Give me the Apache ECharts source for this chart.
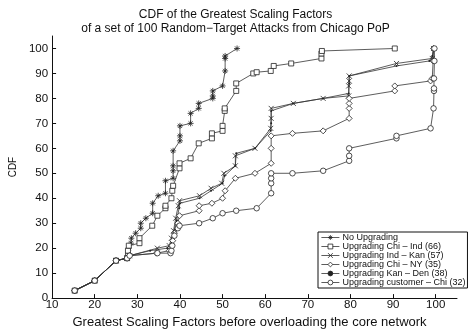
<!DOCTYPE html>
<html>
<head>
<meta charset="utf-8">
<script src="https://cdn.jsdelivr.net/npm/echarts@6/dist/echarts.min.js"></script>
<style>html,body{margin:0;padding:0;background:#fff}#c{width:471px;height:334px}</style>
</head>
<body>
<div id="c"></div>
<script>
const titleLines = ["CDF of the Greatest Scaling Factors", "of a set of 100 Random\u2212Target Attacks from Chicago PoP"];
const xName = "Greatest Scaling Factors before overloading the core network";
const yName = "CDF";
const xTicks = [10, 20, 30, 40, 50, 60, 70, 80, 90, 100];
const yTicks = [0, 10, 20, 30, 40, 50, 60, 70, 80, 90, 100];
const seriesNames = ["No Upgrading", "Upgrading Chi \u2013 Ind (66)", "Upgrading Ind \u2013 Kan (57)", "Upgrading Chi \u2013 NY (35)", "Upgrading Kan \u2013 Den (38)", "Upgrading customer \u2013 Chi (32)"];

const noUpgrading = [[15.3,3],[20,7],[25,15],[27.6,16],[28,17],[28,20],[28.5,22],[28.6,24],[29.6,26],[30.8,28],[30.8,30],[32,32],[33.6,34],[33.6,38],[34.9,41],[36.6,42],[36.6,47],[38.4,48],[38.4,51],[38.4,53],[38.4,59],[40,63],[40,65],[40,69],[42.5,70],[42.5,74],[44.4,76],[44.4,78],[47.7,80],[47.7,81],[47.7,83],[50,85],[50.6,91],[50.6,96],[50.6,97],[53.4,100]];
const chiInd = [[15.3,3],[20,7],[25,15],[27.6,16],[27.8,17],[27.8,19],[28,21],[30.5,22],[30.5,24],[33.5,29],[34.7,33],[36.6,36],[36.6,37],[38,40],[38.2,43],[38.4,45],[39.9,52],[39.9,54],[42.5,56],[44.4,62],[47.5,64],[47.5,66],[50,67],[50,69],[50.5,75],[50.5,76],[53.2,83],[53.2,86],[57.2,90],[58,90.5],[61.3,91],[62,93],[66.1,94],[73.2,96],[73.2,98],[73.3,99],[90.4,100]];
const indKan = [[15.3,3],[20,7],[25,15],[27.6,16],[28.2,17],[34.7,20],[37.5,21],[38,24],[38.5,27],[39,32],[39.6,37],[39.9,39],[44.6,41],[47.3,44],[49.8,46],[50.3,50],[53,53],[53,57],[57.6,60],[61.3,68],[61.4,72],[61.4,76],[66.6,78],[73.6,80],[79.6,81],[79.6,85],[79.7,87],[79.7,89],[90.8,94],[99.2,96],[99.5,100]];
const chiNY = [[15.3,3],[20,7],[25,15],[27.6,16],[28.2,17],[34.5,18],[37.5,19],[38,21],[38.3,23],[38.7,26],[39.5,30],[39.9,33],[44.5,35],[44.5,37],[47.5,38],[50,40],[50.6,43],[53,48],[57.6,50],[61.4,54],[61.4,60],[61.4,65],[66.4,66],[73.6,67],[79.7,72],[79.7,76],[79.7,78],[79.7,80],[90.4,83],[90.4,85],[98.8,87],[99.2,88],[99.4,95],[99.5,100]];
const kanDen = [[15.3,3],[20,7],[25,15],[27.6,16],[28.2,17],[33,19],[37,20],[38,22],[38.5,26],[39.2,31],[39.8,36],[40,38],[44.6,40],[47.3,43],[50,46],[50.5,49],[53,53],[53.2,58],[57.6,60],[61.3,67],[61.4,70],[61.4,75],[66.6,78],[73.6,80],[79.6,82],[79.7,86],[79.7,89],[90.8,93],[98.5,95],[99.2,97],[99.5,100]];
const custChi = [[15.3,3],[20,7],[25,15],[27.6,16],[28.2,17],[34.7,18],[37.8,18],[38,19],[38.2,21],[38.7,25],[39.5,28],[39.9,29],[44.5,30],[47.7,32],[50,34],[53.2,35],[58,36],[61.4,42],[61.4,46],[61.4,48],[61.4,50],[66.4,50],[73.6,51],[79.7,55],[79.7,57],[79.7,60],[90.8,64],[90.8,65],[98.8,68],[99.5,76],[99.6,83],[99.6,84],[99.6,88],[99.7,95],[99.7,100]];

const seriesData = [noUpgrading, chiInd, indKan, chiNY, kanDen, custChi];
const symbols = [
  'path://M5,0L5,10M0,5L10,5M1.5,1.5L8.5,8.5M8.5,1.5L1.5,8.5',
  'rect',
  'path://M0,0L10,10M10,0L0,10',
  'diamond',
  'circle',
  'circle'
];
const symbolSizes = [6, 5, 5, 6, 2, 5.5];

const chart = echarts.init(document.getElementById('c'), null, {renderer: 'canvas'});
const FONT = 'Liberation Sans, Arial, Helvetica, sans-serif';
chart.setOption({
  animation: false,
  backgroundColor: '#fff',
  title: {
    text: titleLines.join('\n'),
    left: 'center',
    top: 3,
    textStyle: {fontFamily: FONT, fontSize: 12, fontWeight: 'normal', color: '#111', lineHeight: 13.5}
  },
  grid: {left: 42, right: 14, top: 36, bottom: 28},
  xAxis: {
    type: 'value', min: 10, max: 105, interval: 10,
    name: xName, nameLocation: 'middle', nameGap: 16,
    nameTextStyle: {fontFamily: FONT, fontSize: 13, color: '#111', padding: [0, 10, 0, 0]},
    axisLine: {lineStyle: {color: '#111', width: 1}},
    axisTick: {inside: true, length: 4, lineStyle: {color: '#111'}, customValues: xTicks},
    axisLabel: {fontFamily: FONT, fontSize: 11.5, color: '#111', margin: 1, customValues: xTicks},
    splitLine: {show: false}
  },
  yAxis: {
    type: 'value', min: 0, max: 105, interval: 10,
    name: yName, nameLocation: 'middle', nameGap: 29, nameRotate: 90,
    nameTextStyle: {fontFamily: FONT, fontSize: 10, color: '#111'},
    axisLine: {show: true, lineStyle: {color: '#111', width: 1}},
    axisTick: {show: true, inside: true, length: 4, lineStyle: {color: '#111'}, customValues: yTicks},
    axisLabel: {fontFamily: FONT, fontSize: 11.5, color: '#111', margin: 4, customValues: yTicks},
    splitLine: {show: false}
  },
  legend: {
    orient: 'vertical', left: 318, top: 232,
    width: 140,
    borderColor: '#111', borderWidth: 1, backgroundColor: '#fff',
    padding: [1, 2, 1, 3],
    itemGap: 0, itemWidth: 18, itemHeight: 6,
    itemStyle: {borderWidth: 0.8},
    lineStyle: {width: 0.8},
    textStyle: {fontFamily: FONT, fontSize: 9, color: '#111', padding: [0,0,0,-2], lineHeight: 9},
    data: seriesNames
  },
  series: seriesData.map((d, i) => ({
    name: seriesNames[i],
    type: 'line',
    data: d,
    symbol: symbols[i],
    symbolSize: symbolSizes[i],
    showAllSymbol: true,
    lineStyle: {color: '#333', width: 0.8},
    itemStyle: i === 4
      ? {color: '#222', borderColor: '#222', borderWidth: 0}
      : {color: (i === 1 || i === 3 || i === 5) ? '#fff' : 'rgba(0,0,0,0)', borderColor: '#222', borderWidth: 0.8},
    emphasis: {disabled: true}
  }))
});
</script>
</body>
</html>
